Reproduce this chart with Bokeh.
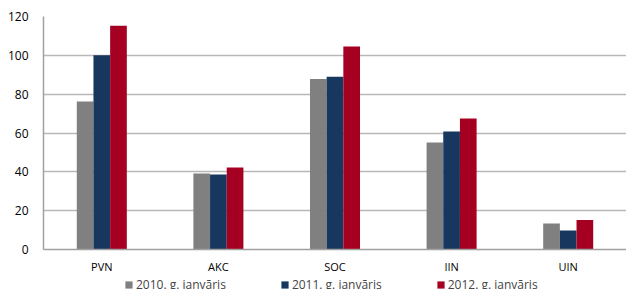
from bokeh.plotting import figure
from bokeh.models import ColumnDataSource, Legend, LegendItem, FixedTicker
from bokeh.layouts import column
from bokeh.transform import dodge
from bokeh.embed import file_html
from bokeh.resources import INLINE

categories = ["PVN", "AKC", "SOC", "IIN", "UIN"]
series_names = ["2010. g. janvāris", "2011. g. janvāris", "2012. g. janvāris"]
v2010 = [76.2, 39.1, 87.8, 55.1, 13.4]
v2011 = [100.0, 38.6, 89.0, 60.8, 9.8]
v2012 = [115.2, 42.2, 104.5, 67.5, 15.2]
colors = ["#808080", "#17375E", "#A50021"]
y_ticks = [0, 20, 40, 60, 80, 100, 120]

src = ColumnDataSource(dict(cat=categories, a=v2010, b=v2011, c=v2012))

p = figure(x_range=categories, y_range=(0, 120), frame_width=583, frame_height=233,
           min_border_left=43, min_border_right=0, min_border_top=16, min_border_bottom=20,
           output_backend="svg", toolbar_location=None)

w = 0.143
for key, off, col in zip(["a", "b", "c"], [-w, 0, w], colors):
    p.vbar(x=dodge("cat", off, range=p.x_range), top=key, width=w, source=src,
           fill_color=col, line_color=None)

p.outline_line_color = None
p.xgrid.grid_line_color = None
p.ygrid.grid_line_color = "#b8b8b8"
p.ygrid.grid_line_width = 1.5
p.yaxis.ticker = FixedTicker(ticks=y_ticks)
for ax in (p.xaxis[0], p.yaxis[0]):
    ax.axis_line_color = "#a0a0a0"
    ax.axis_line_width = 1.5
    ax.major_tick_line_color = None
    ax.minor_tick_line_color = None
    ax.major_label_text_font = "Open Sans"
    ax.major_label_text_color = "#000000"
p.yaxis.major_label_text_font_size = "12px"
p.xaxis.major_label_text_font_size = "11px"
p.yaxis.major_label_standoff = 9
p.xaxis.major_label_standoff = 3

# legend strip below the chart (proxy swatches sit outside the strip's visible range)
lf = figure(frame_width=626, frame_height=20, min_border=0, x_range=(0, 1), y_range=(0, 1),
            output_backend="svg", toolbar_location=None)
lf.axis.visible = False
lf.grid.grid_line_color = None
lf.outline_line_color = None
proxy = ColumnDataSource(dict(x=[-5.0], y=[-5.0]))
items = []
for name, col in zip(series_names, colors):
    r = lf.rect(x="x", y="y", width=0.1, height=0.1, source=proxy,
                fill_color=col, line_color=None)
    items.append(LegendItem(label=name, renderers=[r]))

legend = Legend(items=items, orientation="horizontal", location=(124, 3), spacing=54,
                glyph_width=9, glyph_height=9, label_standoff=3,
                label_text_font="Open Sans", label_text_font_size="12px",
                label_height=12, border_line_color=None, background_fill_alpha=0,
                padding=0, margin=0)
lf.add_layout(legend)

layout = column(p, lf, spacing=0)
open("out.html", "w").write(file_html(layout, INLINE))
